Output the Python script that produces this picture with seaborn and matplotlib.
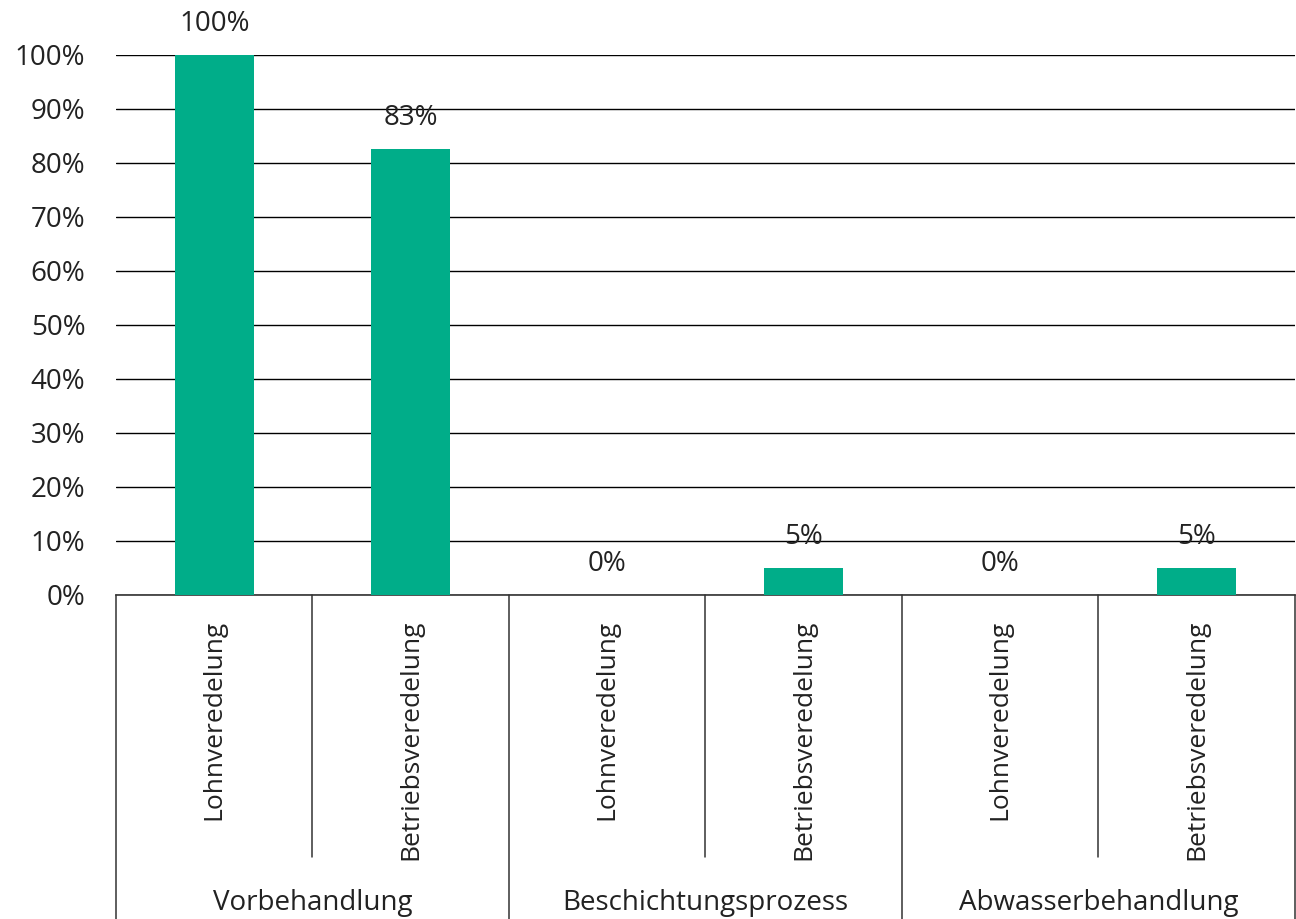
"""Share of companies per process step, Lohn- vs. Betriebsveredelung."""

import matplotlib
matplotlib.use("Agg")
import matplotlib.pyplot as plt
import seaborn as sns
import pandas as pd

groups = ["Vorbehandlung", "Beschichtungsprozess", "Abwasserbehandlung"]
subgroups = ["Lohnveredelung", "Betriebsveredelung"]
values = [100, 82.6, 0, 5, 0, 5]
yticks = [0, 10, 20, 30, 40, 50, 60, 70, 80, 90, 100]

GREEN = "#00AD89"

sns.set_theme(style="white")
plt.rcParams["font.family"] = ["Open Sans", "DejaVu Sans"]

rows = []
for g in groups:
    for s in subgroups:
        rows.append({"group": g, "sub": s, "key": f"{g}|{s}"})
df = pd.DataFrame(rows)
df["value"] = values

fig = plt.figure(figsize=(12.96, 9.19), dpi=100)
ax = fig.add_axes([0.0895, 0.3526, 0.9095, 0.5876])

sns.barplot(data=df, x="key", y="value", color=GREEN, width=0.4,
            saturation=1, linewidth=0, ax=ax, zorder=3)

ax.set_ylim(0, 100)
ax.set_xlim(-0.5, len(df) - 0.5)
ax.set_yticks(yticks)
ax.set_yticklabels([f"{t}%" for t in yticks], fontsize=20, color="#222222")
ax.tick_params(axis="y", length=0, pad=22)
ax.set_xticks([])
ax.set_xlabel("")
ax.set_ylabel("")
for t in yticks:
    ax.axhline(t, color="black", lw=1, zorder=1)

for side in ["top", "right", "left"]:
    ax.spines[side].set_visible(False)
ax.spines["bottom"].set_color("#333333")
ax.spines["bottom"].set_linewidth(1.2)

# value labels
for i, v in enumerate(df["value"]):
    ax.annotate(f"{v:.0f}%", (i, v), xytext=(0, 22), textcoords="offset points",
                ha="center", va="center", fontsize=20, color="#222222",
                annotation_clip=False)

# category axis with separators
trans = ax.get_xaxis_transform()
n_sub = len(subgroups)
for i in range(len(df) + 1):
    x = i - 0.5
    bottom = -0.62 if i % n_sub == 0 else -0.485
    ax.plot([x, x], [0, bottom], transform=trans, color="#333333",
            lw=1.1, clip_on=False)

for i, s in enumerate(df["sub"]):
    ax.text(i, -0.046, s, transform=trans, rotation=90, ha="center", va="top",
            fontsize=19, color="#222222")

for j, g in enumerate(groups):
    ax.text(j * n_sub + (n_sub - 1) / 2, -0.57, g, transform=trans,
            ha="center", va="center", fontsize=20, color="#222222")

fig.savefig("out.png", dpi=100)
